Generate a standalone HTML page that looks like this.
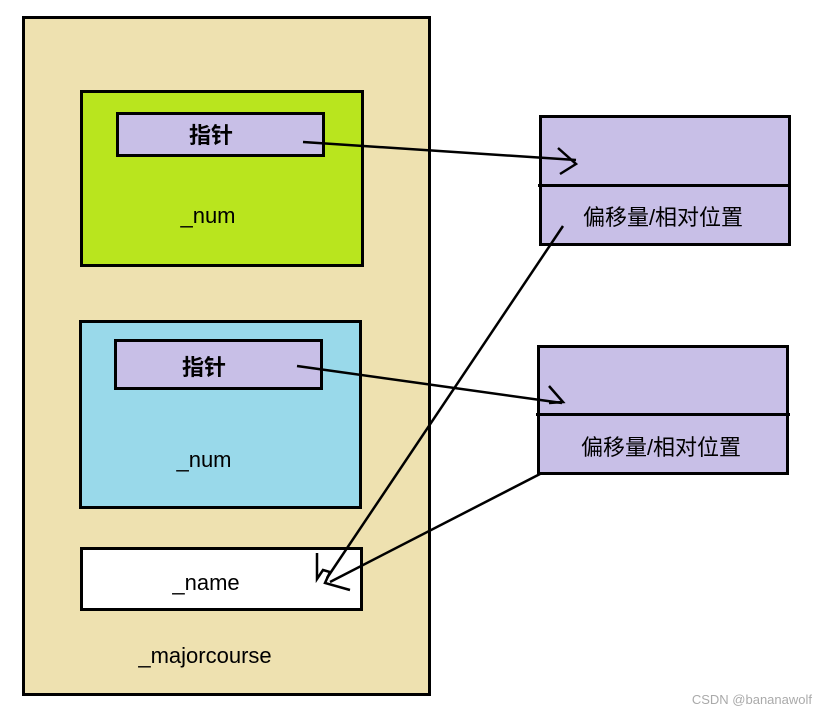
<!DOCTYPE html>
<html><head><meta charset="utf-8"><style>
body{margin:0;background:#fff;width:828px;height:715px;overflow:hidden}
text{font-family:"Liberation Sans","Noto Sans CJK SC",sans-serif;font-size:22px;fill:#000}
</style></head><body>
<svg width="828" height="715" xmlns="http://www.w3.org/2000/svg">
<rect x="23.5" y="17.5" width="406" height="677" fill="#EEE1B0" stroke="#000" stroke-width="3"/>
<rect x="81.5" y="91.5" width="281" height="174" fill="#B9E51E" stroke="#000" stroke-width="3"/>
<rect x="117.5" y="113.5" width="206" height="42" fill="#C8BFE7" stroke="#000" stroke-width="3"/>
<text x="211" y="143" text-anchor="middle" font-weight="bold">指针</text>
<text x="208" y="223" text-anchor="middle">_num</text>
<rect x="80.5" y="321.5" width="280" height="186" fill="#99D9EA" stroke="#000" stroke-width="3"/>
<rect x="115.5" y="340.5" width="206" height="48" fill="#C8BFE7" stroke="#000" stroke-width="3"/>
<text x="204" y="375" text-anchor="middle" font-weight="bold">指针</text>
<text x="204" y="467" text-anchor="middle">_num</text>
<rect x="81.5" y="548.5" width="280" height="61" fill="#fff" stroke="#000" stroke-width="3"/>
<text x="206" y="590" text-anchor="middle">_name</text>
<text x="205" y="663" text-anchor="middle">_majorcourse</text>
<rect x="540.5" y="116.5" width="249" height="128" fill="#C8BFE7" stroke="#000" stroke-width="3"/>
<line x1="538" y1="185.5" x2="790" y2="185.5" stroke="#000" stroke-width="3"/>
<text x="663" y="225" text-anchor="middle">偏移量/相对位置</text>
<rect x="538.5" y="346.5" width="249" height="127" fill="#C8BFE7" stroke="#000" stroke-width="3"/>
<line x1="536" y1="414.5" x2="790" y2="414.5" stroke="#000" stroke-width="3"/>
<text x="661" y="455" text-anchor="middle">偏移量/相对位置</text>
<g stroke="#000" stroke-width="2.5" fill="none">
<path d="M303 142 L576 160"/>
<path d="M558 148 L576 164 L560 174"/>
<path d="M297 366 L562 403"/>
<path d="M549 386 L563 402 L549 403"/>
<path d="M563 226 L327 578"/>
<path d="M540 474 L330 582"/>
<path d="M317 553 L317 579 L323 570 L330 572 L325 583 L350 590"/>
</g>
<text x="812" y="704" text-anchor="end" style="font-size:13px;fill:#aaa">CSDN @bananawolf</text>
</svg>
</body></html>
